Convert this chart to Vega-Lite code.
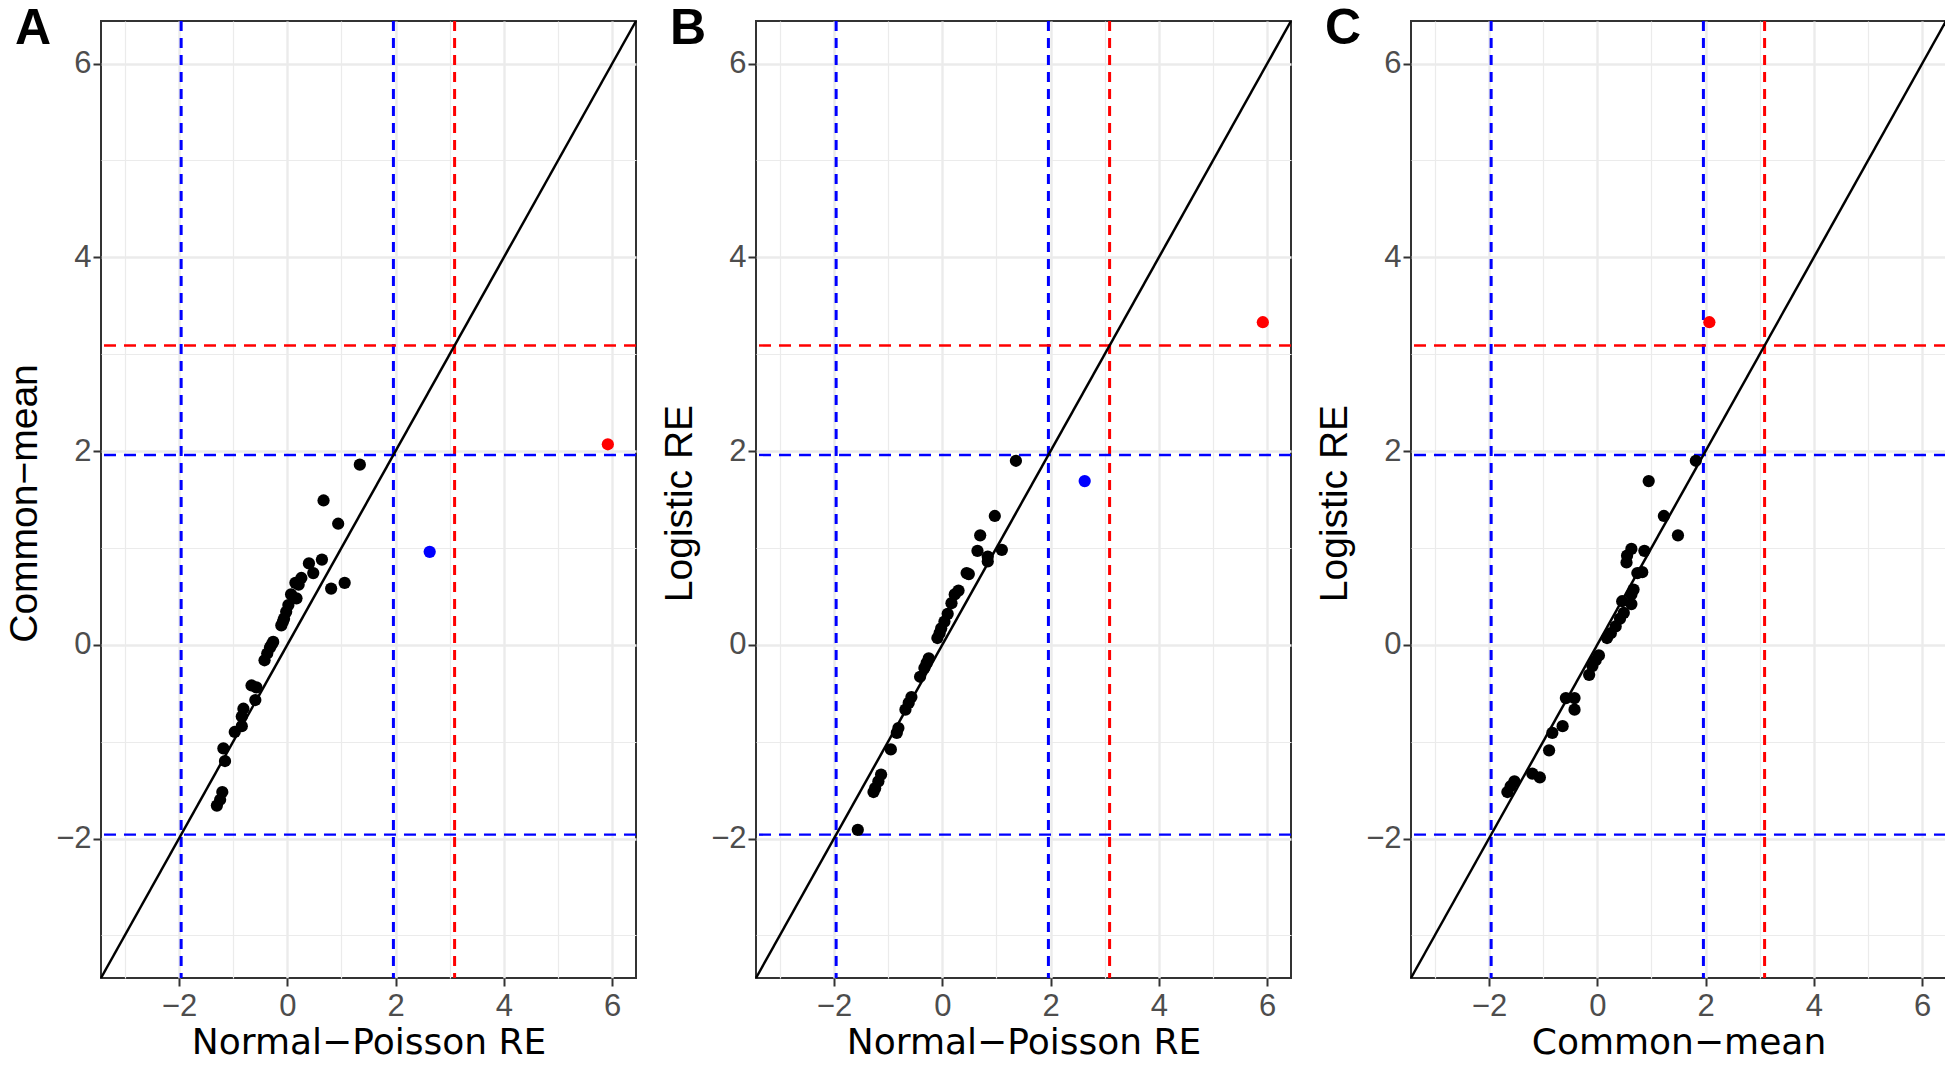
{
  "$schema": "https://vega.github.io/schema/vega-lite/v6.json",
  "background": "white",
  "padding": {"left": 4, "top": 3, "right": 0, "bottom": 0},
  "autosize": {"type": "pad"},
  "bounds": "flush",
  "spacing": 120,
  "config": {
    "view": {"stroke": "#333333", "strokeWidth": 2},
    "axis": {"zindex": 0}
  },
  "datasets": {
    "diag": [{"d": -3.44}, {"d": 6.44}],
    "ref": [{"v": -1.96, "kind": "z196"}, {"v": 1.96, "kind": "z196"}, {"v": 3.09, "kind": "z309"}],
    "A": [
      {"x": 1.34, "y": 1.86, "flag": "none"}, {"x": 0.67, "y": 1.49, "flag": "none"}, {"x": 0.94, "y": 1.25, "flag": "none"},
      {"x": 0.64, "y": 0.88, "flag": "none"}, {"x": 0.40, "y": 0.84, "flag": "none"}, {"x": 0.48, "y": 0.74, "flag": "none"},
      {"x": 0.26, "y": 0.69, "flag": "none"}, {"x": 0.15, "y": 0.64, "flag": "none"}, {"x": 0.21, "y": 0.62, "flag": "none"},
      {"x": 0.81, "y": 0.58, "flag": "none"}, {"x": 1.06, "y": 0.64, "flag": "none"}, {"x": 0.07, "y": 0.52, "flag": "none"},
      {"x": 0.17, "y": 0.48, "flag": "none"}, {"x": 0.02, "y": 0.41, "flag": "none"}, {"x": -0.02, "y": 0.34, "flag": "none"},
      {"x": -0.06, "y": 0.27, "flag": "none"}, {"x": -0.11, "y": 0.20, "flag": "none"}, {"x": -0.08, "y": 0.24, "flag": "none"},
      {"x": -0.26, "y": 0.03, "flag": "none"}, {"x": -0.29, "y": 0.00, "flag": "none"}, {"x": -0.32, "y": -0.03, "flag": "none"},
      {"x": -0.37, "y": -0.09, "flag": "none"}, {"x": -0.42, "y": -0.16, "flag": "none"}, {"x": -0.66, "y": -0.42, "flag": "none"},
      {"x": -0.57, "y": -0.44, "flag": "none"}, {"x": -0.59, "y": -0.57, "flag": "none"}, {"x": -0.81, "y": -0.66, "flag": "none"},
      {"x": -0.84, "y": -0.74, "flag": "none"}, {"x": -0.84, "y": -0.84, "flag": "none"}, {"x": -0.97, "y": -0.90, "flag": "none"},
      {"x": -1.18, "y": -1.07, "flag": "none"}, {"x": -1.15, "y": -1.20, "flag": "none"}, {"x": -1.20, "y": -1.52, "flag": "none"},
      {"x": -1.24, "y": -1.60, "flag": "none"}, {"x": -1.30, "y": -1.66, "flag": "none"},
      {"x": 2.63, "y": 0.96, "flag": "z196"}, {"x": 5.92, "y": 2.07, "flag": "z309"}
    ],
    "B": [
      {"x": 1.36, "y": 1.90, "flag": "none"}, {"x": 0.97, "y": 1.33, "flag": "none"}, {"x": 0.70, "y": 1.13, "flag": "none"},
      {"x": 0.65, "y": 0.97, "flag": "none"}, {"x": 1.10, "y": 0.98, "flag": "none"}, {"x": 0.84, "y": 0.91, "flag": "none"},
      {"x": 0.84, "y": 0.86, "flag": "none"}, {"x": 0.45, "y": 0.74, "flag": "none"}, {"x": 0.49, "y": 0.73, "flag": "none"},
      {"x": 0.30, "y": 0.56, "flag": "none"}, {"x": 0.23, "y": 0.52, "flag": "none"}, {"x": 0.17, "y": 0.43, "flag": "none"},
      {"x": 0.10, "y": 0.32, "flag": "none"}, {"x": 0.04, "y": 0.24, "flag": "none"}, {"x": -0.02, "y": 0.17, "flag": "none"},
      {"x": -0.09, "y": 0.07, "flag": "none"}, {"x": -0.05, "y": 0.12, "flag": "none"}, {"x": -0.25, "y": -0.14, "flag": "none"},
      {"x": -0.29, "y": -0.19, "flag": "none"}, {"x": -0.33, "y": -0.24, "flag": "none"}, {"x": -0.41, "y": -0.33, "flag": "none"},
      {"x": -0.57, "y": -0.54, "flag": "none"}, {"x": -0.62, "y": -0.60, "flag": "none"}, {"x": -0.68, "y": -0.67, "flag": "none"},
      {"x": -0.81, "y": -0.86, "flag": "none"}, {"x": -0.84, "y": -0.91, "flag": "none"}, {"x": -0.95, "y": -1.08, "flag": "none"},
      {"x": -1.13, "y": -1.34, "flag": "none"}, {"x": -1.18, "y": -1.41, "flag": "none"}, {"x": -1.24, "y": -1.48, "flag": "none"},
      {"x": -1.27, "y": -1.52, "flag": "none"}, {"x": -1.56, "y": -1.91, "flag": "none"},
      {"x": 2.63, "y": 1.69, "flag": "z196"}, {"x": 5.92, "y": 3.33, "flag": "z309"}
    ],
    "C": [
      {"x": 1.82, "y": 1.90, "flag": "none"}, {"x": 0.95, "y": 1.69, "flag": "none"}, {"x": 1.23, "y": 1.33, "flag": "none"},
      {"x": 1.49, "y": 1.13, "flag": "none"}, {"x": 0.63, "y": 0.99, "flag": "none"}, {"x": 0.87, "y": 0.97, "flag": "none"},
      {"x": 0.55, "y": 0.92, "flag": "none"}, {"x": 0.54, "y": 0.85, "flag": "none"}, {"x": 0.74, "y": 0.74, "flag": "none"},
      {"x": 0.83, "y": 0.75, "flag": "none"}, {"x": 0.67, "y": 0.57, "flag": "none"}, {"x": 0.63, "y": 0.52, "flag": "none"},
      {"x": 0.46, "y": 0.45, "flag": "none"}, {"x": 0.63, "y": 0.42, "flag": "none"}, {"x": 0.49, "y": 0.33, "flag": "none"},
      {"x": 0.42, "y": 0.27, "flag": "none"}, {"x": 0.34, "y": 0.19, "flag": "none"}, {"x": 0.25, "y": 0.12, "flag": "none"},
      {"x": 0.18, "y": 0.07, "flag": "none"}, {"x": 0.03, "y": -0.11, "flag": "none"}, {"x": -0.03, "y": -0.16, "flag": "none"},
      {"x": -0.09, "y": -0.22, "flag": "none"}, {"x": -0.15, "y": -0.31, "flag": "none"}, {"x": -0.58, "y": -0.55, "flag": "none"},
      {"x": -0.42, "y": -0.55, "flag": "none"}, {"x": -0.42, "y": -0.67, "flag": "none"}, {"x": -0.64, "y": -0.84, "flag": "none"},
      {"x": -0.83, "y": -0.91, "flag": "none"}, {"x": -0.89, "y": -1.09, "flag": "none"}, {"x": -1.20, "y": -1.33, "flag": "none"},
      {"x": -1.06, "y": -1.37, "flag": "none"}, {"x": -1.53, "y": -1.41, "flag": "none"}, {"x": -1.60, "y": -1.46, "flag": "none"},
      {"x": -1.66, "y": -1.52, "flag": "none"},
      {"x": 2.07, "y": 3.33, "flag": "z309"}
    ]
  },
  "hconcat": [
    {
      "width": 535, "height": 957,
      "title": {"text": "A", "anchor": "start", "frame": "group", "orient": "top", "offset": 0, "dx": -86, "dy": 78, "align": "left", "baseline": "alphabetic", "font": "Liberation Sans", "fontSize": 50, "fontWeight": "bold", "color": "#000000"},
      "resolve": {"axis": {"x": "independent", "y": "independent"}},
      "layer": [
        {"data": {"name": "ref"}, "mark": {"type": "rule", "strokeDash": [10, 7], "strokeWidth": 3},
         "encoding": {"x": {"field": "v", "type": "quantitative", "scale": {"domain": [-3.44, 6.44], "nice": false, "zero": false}, "axis": null},
                      "color": {"field": "kind", "type": "nominal", "scale": {"domain": ["none", "z196", "z309"], "range": ["#000000", "#0000FF", "#FF0000"]}, "legend": null}}},
        {"data": {"name": "ref"}, "mark": {"type": "rule", "strokeDash": [12, 8], "strokeWidth": 2.4},
         "encoding": {"y": {"field": "v", "type": "quantitative", "scale": {"domain": [-3.44, 6.44], "nice": false, "zero": false}, "axis": null},
                      "color": {"field": "kind", "type": "nominal", "scale": {"domain": ["none", "z196", "z309"], "range": ["#000000", "#0000FF", "#FF0000"]}, "legend": null}}},
        {"data": {"name": "diag"}, "mark": {"type": "line", "color": "#000000", "strokeWidth": 2.5},
         "encoding": {
           "x": {"field": "d", "type": "quantitative", "scale": {"domain": [-3.44, 6.44], "nice": false, "zero": false},
                 "axis": {"orient": "bottom", "values": [-3, -1, 1, 3, 5], "grid": true, "gridColor": "#EBEBEB", "gridWidth": 1.2, "labels": false, "ticks": false, "domain": false, "title": null}},
           "y": {"field": "d", "type": "quantitative", "scale": {"domain": [-3.44, 6.44], "nice": false, "zero": false},
                 "axis": {"orient": "left", "values": [-3, -1, 1, 3, 5], "grid": true, "gridColor": "#EBEBEB", "gridWidth": 1.2, "labels": false, "ticks": false, "domain": false, "title": null}}}},
        {"data": {"name": "A"}, "mark": {"type": "circle", "size": 150, "opacity": 1},
         "encoding": {
           "x": {"field": "x", "type": "quantitative", "scale": {"domain": [-3.44, 6.44], "nice": false, "zero": false},
                 "axis": {"orient": "bottom", "values": [-2, 0, 2, 4, 6], "grid": true, "gridColor": "#EBEBEB", "gridWidth": 2.4, "domain": false, "tickColor": "#333333", "tickWidth": 2, "tickSize": 8, "labelFont": "Liberation Sans", "labelFontSize": 31, "labelColor": "#4D4D4D", "labelBaseline": "alphabetic", "labelPadding": 29, "labelFlush": false, "labelOverlap": false, "title": "Normal−Poisson RE", "titleFont": "DejaVu Sans", "titleFontSize": 36, "titleFontWeight": "normal", "titleColor": "#000000", "titleBaseline": "alphabetic", "titleAlign": "center", "titleX": 267.5, "titleY": 75}},
           "y": {"field": "y", "type": "quantitative", "scale": {"domain": [-3.44, 6.44], "nice": false, "zero": false},
                 "axis": {"orient": "left", "values": [-2, 0, 2, 4, 6], "grid": true, "gridColor": "#EBEBEB", "gridWidth": 2.4, "domain": false, "tickColor": "#333333", "tickWidth": 2, "tickSize": 8, "labelFont": "Liberation Sans", "labelFontSize": 31, "labelColor": "#4D4D4D", "labelPadding": 2, "labelFlush": false, "labelOverlap": false, "title": "Common−mean", "titleFont": "Liberation Sans", "titleFontSize": 39, "titleFontWeight": "normal", "titleColor": "#000000", "titleBaseline": "alphabetic", "titleAlign": "center", "titleAngle": -90, "titleX": -65, "titleY": 482}},
           "color": {"field": "flag", "type": "nominal", "scale": {"domain": ["none", "z196", "z309"], "range": ["#000000", "#0000FF", "#FF0000"]}, "legend": null}}}
      ]
    },
    {
      "width": 535, "height": 957,
      "title": {"text": "B", "anchor": "start", "frame": "group", "orient": "top", "offset": 0, "dx": -86, "dy": 78, "align": "left", "baseline": "alphabetic", "font": "Liberation Sans", "fontSize": 50, "fontWeight": "bold", "color": "#000000"},
      "resolve": {"axis": {"x": "independent", "y": "independent"}},
      "layer": [
        {"data": {"name": "ref"}, "mark": {"type": "rule", "strokeDash": [10, 7], "strokeWidth": 3},
         "encoding": {"x": {"field": "v", "type": "quantitative", "scale": {"domain": [-3.44, 6.44], "nice": false, "zero": false}, "axis": null},
                      "color": {"field": "kind", "type": "nominal", "scale": {"domain": ["none", "z196", "z309"], "range": ["#000000", "#0000FF", "#FF0000"]}, "legend": null}}},
        {"data": {"name": "ref"}, "mark": {"type": "rule", "strokeDash": [12, 8], "strokeWidth": 2.4},
         "encoding": {"y": {"field": "v", "type": "quantitative", "scale": {"domain": [-3.44, 6.44], "nice": false, "zero": false}, "axis": null},
                      "color": {"field": "kind", "type": "nominal", "scale": {"domain": ["none", "z196", "z309"], "range": ["#000000", "#0000FF", "#FF0000"]}, "legend": null}}},
        {"data": {"name": "diag"}, "mark": {"type": "line", "color": "#000000", "strokeWidth": 2.5},
         "encoding": {
           "x": {"field": "d", "type": "quantitative", "scale": {"domain": [-3.44, 6.44], "nice": false, "zero": false},
                 "axis": {"orient": "bottom", "values": [-3, -1, 1, 3, 5], "grid": true, "gridColor": "#EBEBEB", "gridWidth": 1.2, "labels": false, "ticks": false, "domain": false, "title": null}},
           "y": {"field": "d", "type": "quantitative", "scale": {"domain": [-3.44, 6.44], "nice": false, "zero": false},
                 "axis": {"orient": "left", "values": [-3, -1, 1, 3, 5], "grid": true, "gridColor": "#EBEBEB", "gridWidth": 1.2, "labels": false, "ticks": false, "domain": false, "title": null}}}},
        {"data": {"name": "B"}, "mark": {"type": "circle", "size": 150, "opacity": 1},
         "encoding": {
           "x": {"field": "x", "type": "quantitative", "scale": {"domain": [-3.44, 6.44], "nice": false, "zero": false},
                 "axis": {"orient": "bottom", "values": [-2, 0, 2, 4, 6], "grid": true, "gridColor": "#EBEBEB", "gridWidth": 2.4, "domain": false, "tickColor": "#333333", "tickWidth": 2, "tickSize": 8, "labelFont": "Liberation Sans", "labelFontSize": 31, "labelColor": "#4D4D4D", "labelBaseline": "alphabetic", "labelPadding": 29, "labelFlush": false, "labelOverlap": false, "title": "Normal−Poisson RE", "titleFont": "DejaVu Sans", "titleFontSize": 36, "titleFontWeight": "normal", "titleColor": "#000000", "titleBaseline": "alphabetic", "titleAlign": "center", "titleX": 267.5, "titleY": 75}},
           "y": {"field": "y", "type": "quantitative", "scale": {"domain": [-3.44, 6.44], "nice": false, "zero": false},
                 "axis": {"orient": "left", "values": [-2, 0, 2, 4, 6], "grid": true, "gridColor": "#EBEBEB", "gridWidth": 2.4, "domain": false, "tickColor": "#333333", "tickWidth": 2, "tickSize": 8, "labelFont": "Liberation Sans", "labelFontSize": 31, "labelColor": "#4D4D4D", "labelPadding": 2, "labelFlush": false, "labelOverlap": false, "title": "Logistic RE", "titleFont": "Liberation Sans", "titleFontSize": 39, "titleFontWeight": "normal", "titleColor": "#000000", "titleBaseline": "alphabetic", "titleAlign": "center", "titleAngle": -90, "titleX": -65, "titleY": 482}},
           "color": {"field": "flag", "type": "nominal", "scale": {"domain": ["none", "z196", "z309"], "range": ["#000000", "#0000FF", "#FF0000"]}, "legend": null}}}
      ]
    },
    {
      "width": 535, "height": 957,
      "title": {"text": "C", "anchor": "start", "frame": "group", "orient": "top", "offset": 0, "dx": -86, "dy": 78, "align": "left", "baseline": "alphabetic", "font": "Liberation Sans", "fontSize": 50, "fontWeight": "bold", "color": "#000000"},
      "resolve": {"axis": {"x": "independent", "y": "independent"}},
      "layer": [
        {"data": {"name": "ref"}, "mark": {"type": "rule", "strokeDash": [10, 7], "strokeWidth": 3},
         "encoding": {"x": {"field": "v", "type": "quantitative", "scale": {"domain": [-3.44, 6.44], "nice": false, "zero": false}, "axis": null},
                      "color": {"field": "kind", "type": "nominal", "scale": {"domain": ["none", "z196", "z309"], "range": ["#000000", "#0000FF", "#FF0000"]}, "legend": null}}},
        {"data": {"name": "ref"}, "mark": {"type": "rule", "strokeDash": [12, 8], "strokeWidth": 2.4},
         "encoding": {"y": {"field": "v", "type": "quantitative", "scale": {"domain": [-3.44, 6.44], "nice": false, "zero": false}, "axis": null},
                      "color": {"field": "kind", "type": "nominal", "scale": {"domain": ["none", "z196", "z309"], "range": ["#000000", "#0000FF", "#FF0000"]}, "legend": null}}},
        {"data": {"name": "diag"}, "mark": {"type": "line", "color": "#000000", "strokeWidth": 2.5},
         "encoding": {
           "x": {"field": "d", "type": "quantitative", "scale": {"domain": [-3.44, 6.44], "nice": false, "zero": false},
                 "axis": {"orient": "bottom", "values": [-3, -1, 1, 3, 5], "grid": true, "gridColor": "#EBEBEB", "gridWidth": 1.2, "labels": false, "ticks": false, "domain": false, "title": null}},
           "y": {"field": "d", "type": "quantitative", "scale": {"domain": [-3.44, 6.44], "nice": false, "zero": false},
                 "axis": {"orient": "left", "values": [-3, -1, 1, 3, 5], "grid": true, "gridColor": "#EBEBEB", "gridWidth": 1.2, "labels": false, "ticks": false, "domain": false, "title": null}}}},
        {"data": {"name": "C"}, "mark": {"type": "circle", "size": 150, "opacity": 1},
         "encoding": {
           "x": {"field": "x", "type": "quantitative", "scale": {"domain": [-3.44, 6.44], "nice": false, "zero": false},
                 "axis": {"orient": "bottom", "values": [-2, 0, 2, 4, 6], "grid": true, "gridColor": "#EBEBEB", "gridWidth": 2.4, "domain": false, "tickColor": "#333333", "tickWidth": 2, "tickSize": 8, "labelFont": "Liberation Sans", "labelFontSize": 31, "labelColor": "#4D4D4D", "labelBaseline": "alphabetic", "labelPadding": 29, "labelFlush": false, "labelOverlap": false, "title": "Common−mean", "titleFont": "DejaVu Sans", "titleFontSize": 36, "titleFontWeight": "normal", "titleColor": "#000000", "titleBaseline": "alphabetic", "titleAlign": "center", "titleX": 267.5, "titleY": 75}},
           "y": {"field": "y", "type": "quantitative", "scale": {"domain": [-3.44, 6.44], "nice": false, "zero": false},
                 "axis": {"orient": "left", "values": [-2, 0, 2, 4, 6], "grid": true, "gridColor": "#EBEBEB", "gridWidth": 2.4, "domain": false, "tickColor": "#333333", "tickWidth": 2, "tickSize": 8, "labelFont": "Liberation Sans", "labelFontSize": 31, "labelColor": "#4D4D4D", "labelPadding": 2, "labelFlush": false, "labelOverlap": false, "title": "Logistic RE", "titleFont": "Liberation Sans", "titleFontSize": 39, "titleFontWeight": "normal", "titleColor": "#000000", "titleBaseline": "alphabetic", "titleAlign": "center", "titleAngle": -90, "titleX": -65, "titleY": 482}},
           "color": {"field": "flag", "type": "nominal", "scale": {"domain": ["none", "z196", "z309"], "range": ["#000000", "#0000FF", "#FF0000"]}, "legend": null}}}
      ]
    }
  ]
}
